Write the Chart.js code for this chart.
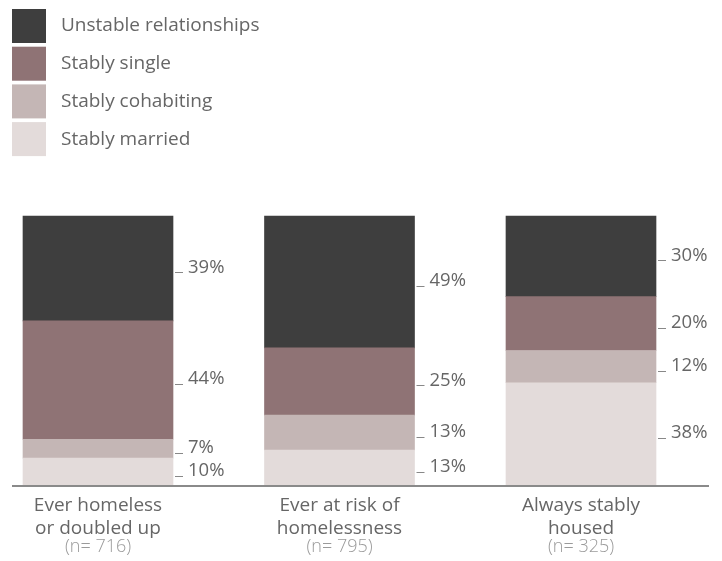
<!DOCTYPE html>
<html>
<head>
<meta charset="utf-8">
<script src="https://cdn.jsdelivr.net/npm/chart.js@4/dist/chart.umd.min.js"></script>
<style>
    html, body { margin: 0; padding: 0; background: #fff; }
    #wrap { width: 722px; height: 561px; position: relative; }
</style>
</head>
<body>
<div id="wrap"><canvas id="relationshipChart"></canvas></div>
<script>
// categories (tick labels) and sample sizes
const categories = [
    ['Ever homeless', 'or doubled up'],
    ['Ever at risk of', 'homelessness'],
    ['Always stably', 'housed']
];
const sampleSizes = [716, 795, 325];

// series, bottom of the stack first
const seriesNames = ['Stably married', 'Stably cohabiting', 'Stably single', 'Unstable relationships'];
const stablyMarried = [10, 13, 38];
const stablyCohabiting = [7, 13, 12];
const stablySingle = [44, 25, 20];
const unstableRelationships = [39, 49, 30];
const seriesColors = ['#e3dbda', '#c4b6b5', '#8f7375', '#3e3e3e'];

const FONT = '"Open Sans", "Noto Sans", sans-serif';
const TEXT = '#666666';

// Vertical legend top-left, top series first
const legendPlugin = {
    id: 'stackLegend',
    afterDraw(chart) {
        const ctx = chart.ctx;
        const sets = chart.data.datasets.slice().reverse();
        ctx.save();
        ctx.font = '19px ' + FONT;
        ctx.textBaseline = 'middle';
        sets.forEach(function (ds, i) {
            const top = 9 + i * 37.7;
            ctx.fillStyle = ds.backgroundColor;
            ctx.fillRect(12, top, 34, 34);
            ctx.fillStyle = TEXT;
            ctx.fillText(ds.label, 61, top + 17);
        });
        ctx.restore();
    }
};

// Percent labels with small leader lines to the right of each bar
const valueLabels = {
    id: 'valueLabels',
    afterDatasetsDraw(chart) {
        const ctx = chart.ctx;
        ctx.save();
        ctx.font = '18.5px ' + FONT;
        ctx.textBaseline = 'middle';
        chart.data.datasets.forEach(function (ds, di) {
            const meta = chart.getDatasetMeta(di);
            meta.data.forEach(function (bar, i) {
                const right = bar.x + bar.width / 2;
                const mid = (bar.y + bar.base) / 2;
                ctx.strokeStyle = '#888888';
                ctx.lineWidth = 1;
                ctx.beginPath();
                ctx.moveTo(right + 2, Math.round(mid + 4) + 0.5);
                ctx.lineTo(right + 10, Math.round(mid + 4) + 0.5);
                ctx.stroke();
                ctx.fillStyle = TEXT;
                ctx.fillText(ds.data[i] + '%', right + 15, mid - 1);
            });
        });

        // baseline across the whole plot
        const y0 = chart.scales.y.getPixelForValue(0);
        ctx.strokeStyle = '#8a8a8a';
        ctx.lineWidth = 2;
        ctx.beginPath();
        ctx.moveTo(12, y0 + 1);
        ctx.lineTo(709, y0 + 1);
        ctx.stroke();

        // (n= ...) under the category labels
        ctx.font = '300 18px ' + FONT;
        ctx.fillStyle = '#9a9a9a';
        ctx.textAlign = 'center';
        sampleSizes.forEach(function (n, i) {
            ctx.fillText('(n= ' + n + ')', chart.scales.x.getPixelForValue(i), 547);
        });
        ctx.restore();
    }
};

const ctx = document.getElementById('relationshipChart').getContext('2d');
new Chart(ctx, {
    type: 'bar',
    data: {
        labels: categories,
        datasets: [
            { label: seriesNames[0], data: stablyMarried, backgroundColor: seriesColors[0] },
            { label: seriesNames[1], data: stablyCohabiting, backgroundColor: seriesColors[1] },
            { label: seriesNames[2], data: stablySingle, backgroundColor: seriesColors[2] },
            { label: seriesNames[3], data: unstableRelationships, backgroundColor: seriesColors[3] }
        ]
    },
    options: {
        responsive: true,
        maintainAspectRatio: false,
        animation: false,
        datasets: {
            bar: { barThickness: 150, clip: false, borderWidth: 0 }
        },
        layout: {
            padding: { top: 216, left: 98, right: 141, bottom: 0 }
        },
        plugins: {
            legend: { display: false },
            tooltip: { enabled: false }
        },
        scales: {
            x: {
                stacked: true,
                offset: false,
                grid: { display: false, drawTicks: false },
                border: { display: false },
                ticks: {
                    color: TEXT,
                    font: { family: FONT, size: 19 },
                    padding: 9,
                    maxRotation: 0,
                    autoSkip: false
                },
                afterFit(scale) { scale.height = 76; }
            },
            y: {
                stacked: true,
                display: false,
                min: 0,
                max: 100
            }
        }
    },
    plugins: [legendPlugin, valueLabels]
});
</script>
</body>
</html>
